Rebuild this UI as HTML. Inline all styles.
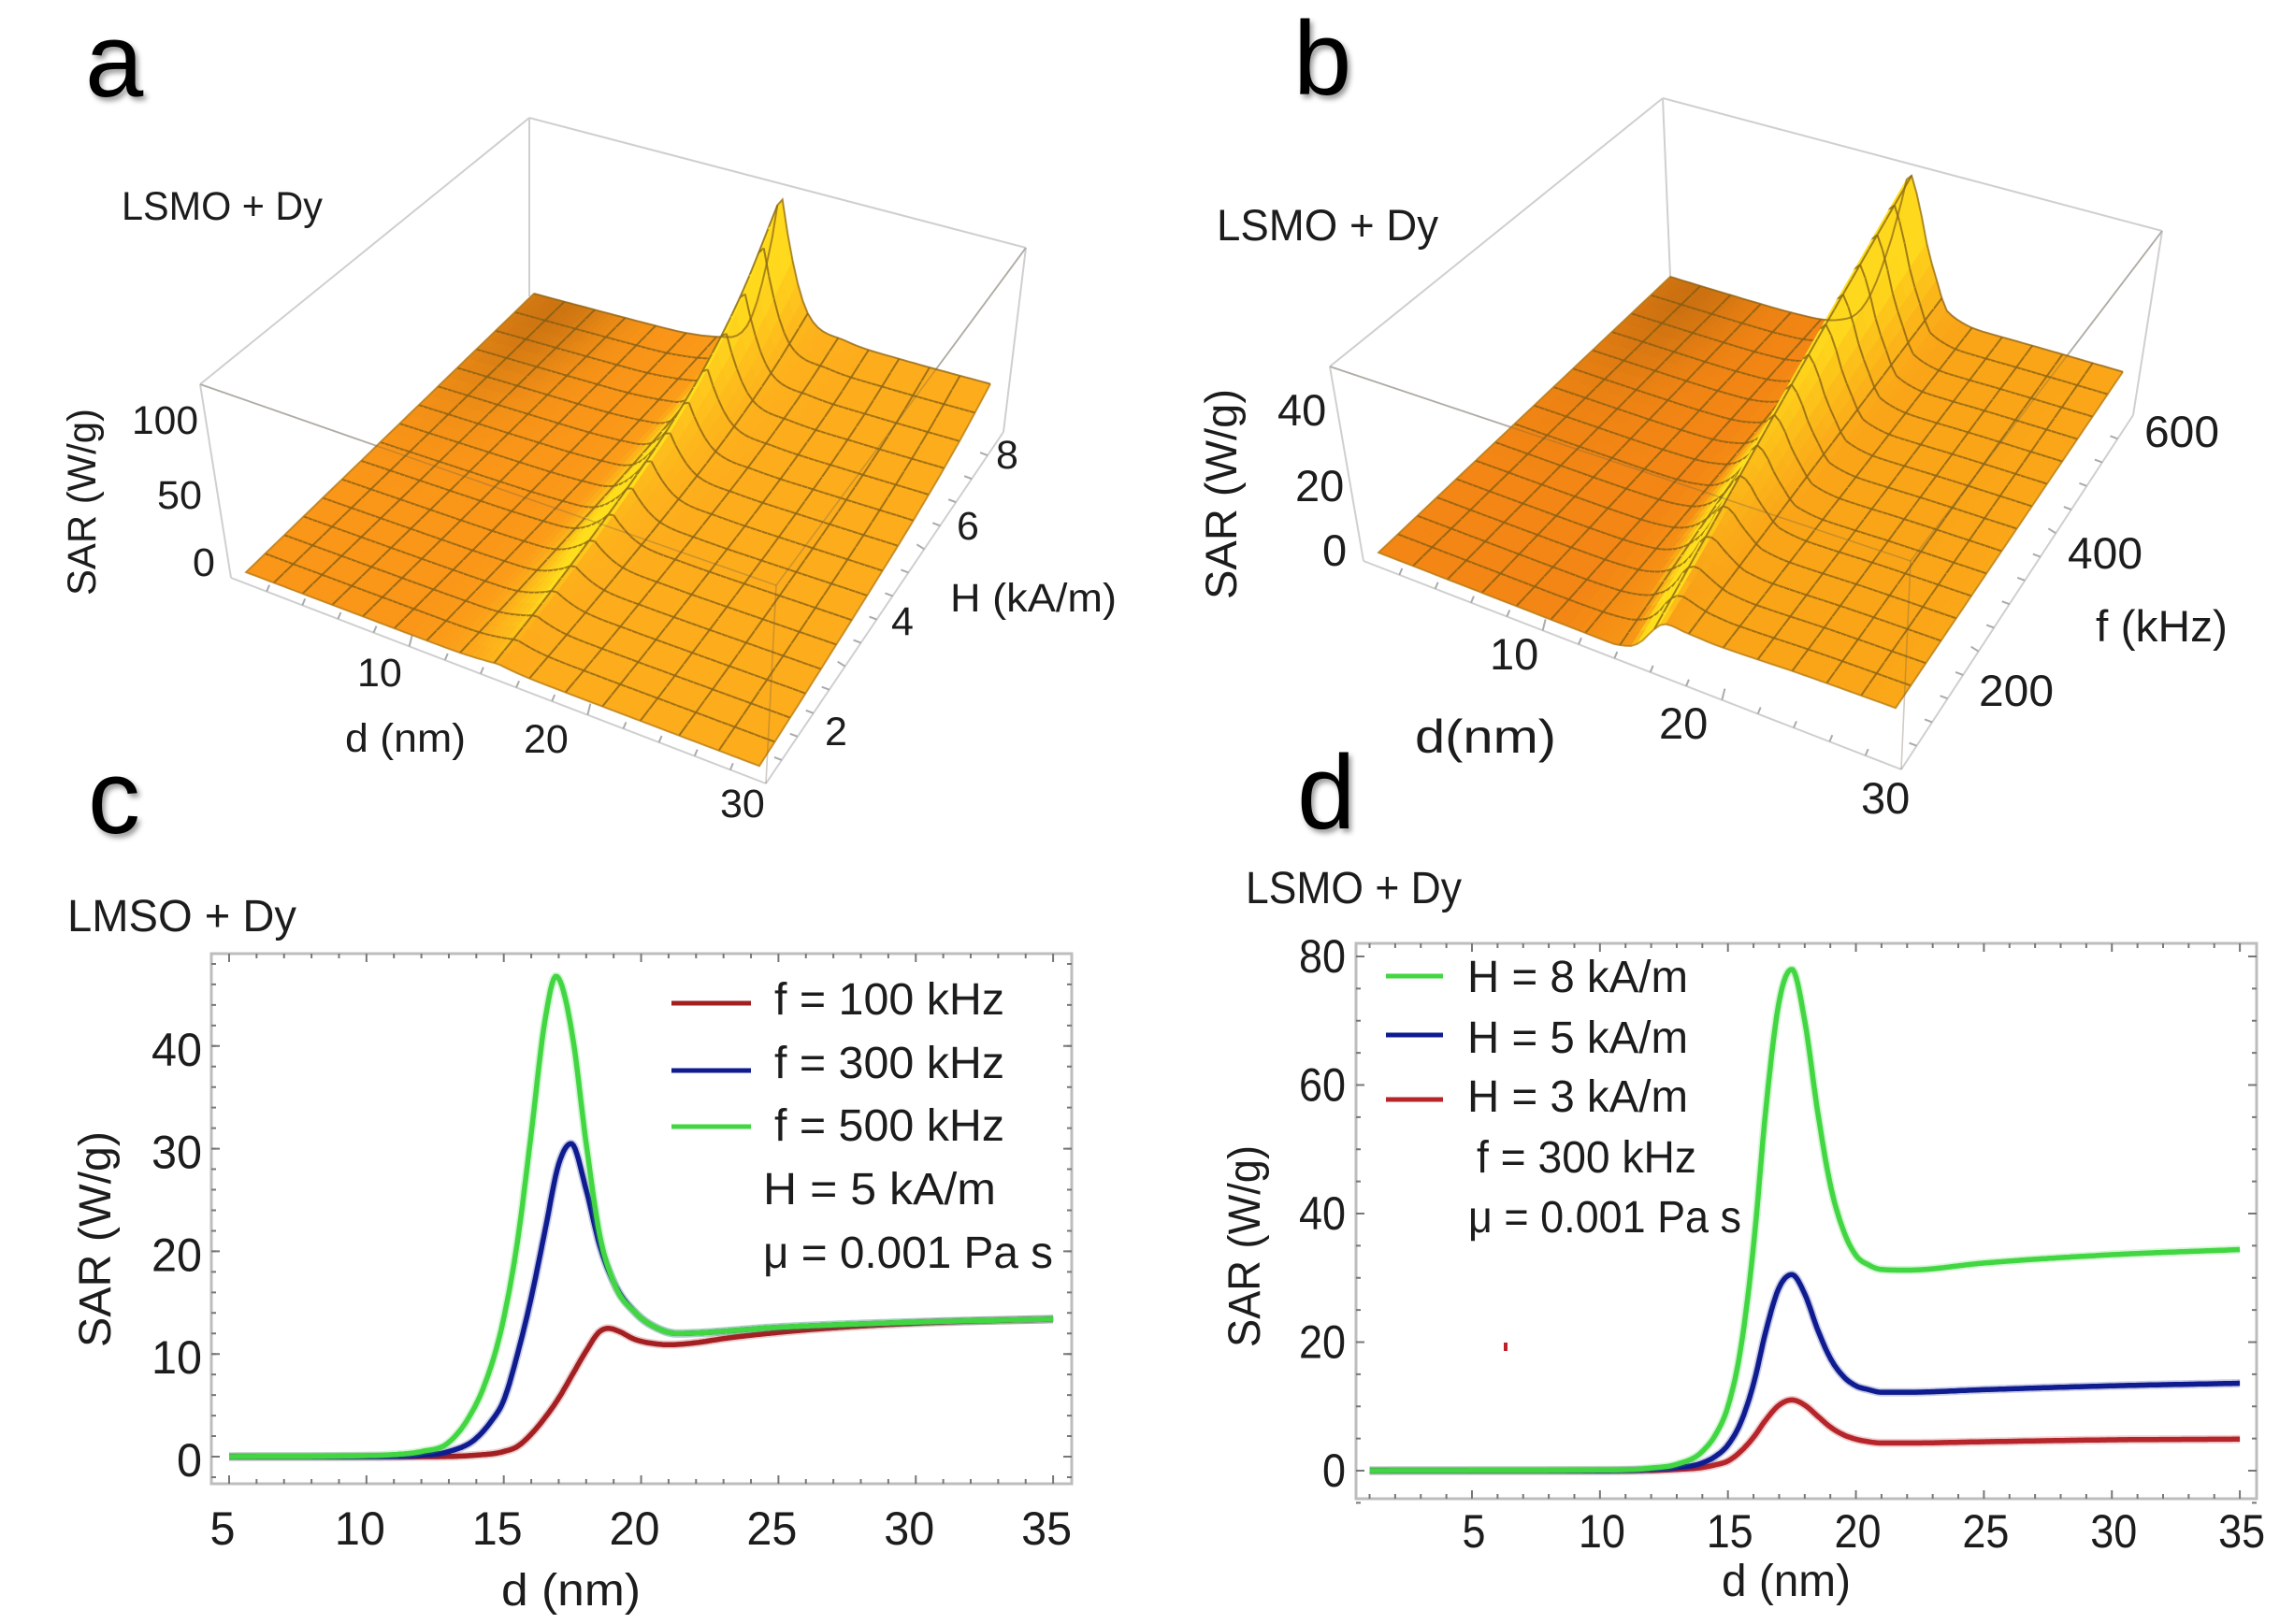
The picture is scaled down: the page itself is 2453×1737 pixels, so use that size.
<!DOCTYPE html>
<html lang="en">
<head>
<meta charset="utf-8">
<title>SAR of LSMO + Dy</title>
<style>
html,body{margin:0;padding:0;background:#fff;}
#figure{display:block;width:2453px;height:1737px;background:#fff;}
text{font-family:"Liberation Sans",sans-serif;fill:#1c1c1c;}
.letter{font-size:112px;fill:#000;filter:drop-shadow(3px 4px 3px rgba(0,0,0,.4));}
</style>
</head>
<body>
<svg id="figure" xmlns="http://www.w3.org/2000/svg" width="2453" height="1737" viewBox="0 0 2453 1737">
  <g id="surface-a"></g>
  <g id="surface-b"></g>
  <g id="chart-c"></g>
  <g id="chart-d"></g>

  <text class="letter" x="91" y="103">a</text>
  <text class="letter" x="1383" y="101">b</text>
  <text class="letter" x="94" y="891">c</text>
  <text class="letter" x="1387" y="886">d</text>

  <!-- panel a labels -->
  <g font-size="43">
    <text x="130" y="235" textLength="215" lengthAdjust="spacingAndGlyphs">LSMO + Dy</text>
    <text x="141" y="464" textLength="71" lengthAdjust="spacingAndGlyphs">100</text>
    <text x="168" y="544" textLength="48" lengthAdjust="spacingAndGlyphs">50</text>
    <text x="206" y="616">0</text>
    <text x="102" y="637" transform="rotate(-90 102 637)" textLength="200" lengthAdjust="spacingAndGlyphs">SAR (W/g)</text>
    <text x="382" y="734">10</text>
    <text x="369" y="804" textLength="129" lengthAdjust="spacingAndGlyphs">d (nm)</text>
    <text x="560" y="805">20</text>
    <text x="770" y="874">30</text>
    <text x="882" y="797">2</text>
    <text x="953" y="679">4</text>
    <text x="1023" y="577">6</text>
    <text x="1065" y="501">8</text>
    <text x="1016" y="654" textLength="178" lengthAdjust="spacingAndGlyphs">H (kA/m)</text>
  </g>

  <!-- panel b labels -->
  <g font-size="47">
    <text x="1301" y="257" textLength="237" lengthAdjust="spacingAndGlyphs">LSMO + Dy</text>
    <text x="1366" y="455">40</text>
    <text x="1385" y="536">20</text>
    <text x="1414" y="605">0</text>
    <text x="1322" y="641" transform="rotate(-90 1322 641)" textLength="225" lengthAdjust="spacingAndGlyphs">SAR (W/g)</text>
    <text x="1593" y="716">10</text>
    <text x="1513" y="805" font-size="50" textLength="151" lengthAdjust="spacingAndGlyphs">d(nm)</text>
    <text x="1774" y="790">20</text>
    <text x="1990" y="870">30</text>
    <text x="2116" y="755" textLength="80" lengthAdjust="spacingAndGlyphs">200</text>
    <text x="2211" y="608" textLength="80" lengthAdjust="spacingAndGlyphs">400</text>
    <text x="2293" y="478" textLength="80" lengthAdjust="spacingAndGlyphs">600</text>
    <text x="2241" y="686" textLength="141" lengthAdjust="spacingAndGlyphs">f (kHz)</text>
  </g>

  <!-- panel c labels -->
  <g font-size="48">
    <text x="72" y="996" textLength="245" lengthAdjust="spacingAndGlyphs">LMSO + Dy</text>
    <text x="118" y="1441" transform="rotate(-90 118 1441)" textLength="231" lengthAdjust="spacingAndGlyphs">SAR (W/g)</text>
    <text x="536" y="1717" textLength="149" lengthAdjust="spacingAndGlyphs">d (nm)</text>
    <text x="828" y="1085" textLength="246" lengthAdjust="spacingAndGlyphs">f = 100 kHz</text>
    <text x="828" y="1153" textLength="246" lengthAdjust="spacingAndGlyphs">f = 300 kHz</text>
    <text x="828" y="1220" textLength="246" lengthAdjust="spacingAndGlyphs">f = 500 kHz</text>
    <text x="816" y="1288" textLength="249" lengthAdjust="spacingAndGlyphs">H = 5 kA/m</text>
    <text x="816" y="1356" textLength="310" lengthAdjust="spacingAndGlyphs">μ = 0.001 Pa s</text>
  </g>

  <!-- panel d labels -->
  <g font-size="48">
    <text x="1332" y="966" textLength="231" lengthAdjust="spacingAndGlyphs">LSMO + Dy</text>
    <text x="1347" y="1441" transform="rotate(-90 1347 1441)" textLength="216" lengthAdjust="spacingAndGlyphs">SAR (W/g)</text>
    <text x="1841" y="1707" textLength="138" lengthAdjust="spacingAndGlyphs">d (nm)</text>
    <text x="1569" y="1061" textLength="236" lengthAdjust="spacingAndGlyphs">H = 8 kA/m</text>
    <text x="1569" y="1126" textLength="236" lengthAdjust="spacingAndGlyphs">H = 5 kA/m</text>
    <text x="1569" y="1189" textLength="236" lengthAdjust="spacingAndGlyphs">H = 3 kA/m</text>
    <text x="1579" y="1254" textLength="235" lengthAdjust="spacingAndGlyphs">f = 300 kHz</text>
    <text x="1570" y="1318" textLength="292" lengthAdjust="spacingAndGlyphs">μ = 0.001 Pa s</text>
    <rect x="1608" y="1436" width="4" height="9" fill="#c0202a"></rect>
  </g>
</svg>

<script>
// ---------- Line chart data ----------
const chartCTickX = [5, 10, 15, 20, 25, 30, 35];
const chartCTickY = [0, 10, 20, 30, 40];
const chartDTickX = [5, 10, 15, 20, 25, 30, 35];
const chartDTickY = [0, 20, 40, 60, 80];

const cGreenD = [5, 10, 11, 12, 13, 13.7, 14.3, 15, 15.5, 16, 16.5, 16.9, 17.5, 18, 18.5, 19, 19.8, 20.6, 21.3, 25, 30, 35];
const cGreenV = [0, 0.1, 0.2, 0.5, 1.4, 3.7, 7, 13.5, 21, 31.5, 42.5, 46.8, 41, 30.5, 21.5, 17, 14, 12.5, 12, 12.6, 13.1, 13.4];
const cBlueD = [5, 10, 12, 13, 14, 14.5, 15, 15.5, 16, 16.5, 17, 17.45, 18, 18.5, 19, 19.8, 20.6, 21.3, 25, 30, 35];
const cBlueV = [0, 0, 0.15, 0.5, 1.8, 3.3, 5.5, 10, 15.5, 22, 28.5, 30.5, 26, 20.5, 17, 14, 12.5, 12, 12.6, 13.1, 13.4];
const cRedD = [5, 12, 14, 15, 15.5, 16, 16.5, 17, 17.5, 18, 18.5, 18.8, 19.2, 19.7, 20.5, 21, 22, 23, 25, 30, 35];
const cRedV = [0, 0, 0.15, 0.5, 1, 2.2, 3.8, 5.7, 8, 10.3, 12.2, 12.5, 12.2, 11.5, 11, 10.9, 11.1, 11.5, 12.1, 13, 13.4];

const dGreenD = [1, 10, 12, 13, 14, 14.5, 15, 15.5, 16, 16.5, 17, 17.5, 18, 18.5, 19, 19.5, 20, 20.5, 21, 22, 25, 30, 35];
const dGreenV = [0, 0.1, 0.4, 1, 3, 5.5, 10, 19, 35, 57, 73, 78, 70, 56, 44.5, 37.5, 33.5, 32, 31.3, 31.2, 32.3, 33.6, 34.4];
const dBlueD = [1, 10, 12, 13, 14, 14.5, 15, 15.5, 16, 16.5, 17, 17.5, 18, 18.5, 19, 19.5, 20, 20.5, 21, 22, 25, 30, 35];
const dBlueV = [0, 0, 0.2, 0.5, 1.2, 2.2, 4, 7.5, 13.5, 22, 28.5, 30.5, 27.5, 22, 17.5, 14.7, 13.2, 12.6, 12.2, 12.2, 12.6, 13.2, 13.6];
const dRedD = [1, 11, 13, 14, 14.5, 15, 15.5, 16, 16.5, 17, 17.5, 18, 18.5, 19, 19.5, 20, 20.5, 21, 22, 25, 30, 35];
const dRedV = [0, 0, 0.2, 0.5, 0.9, 1.5, 3, 5.2, 8, 10.2, 11, 10.2, 8.5, 6.8, 5.6, 4.9, 4.5, 4.3, 4.3, 4.5, 4.8, 4.9];

// ---------- Surface data ----------
const surfaceD = [1, 5, 10, 12, 13, 14, 15, 15.5, 16, 16.5, 17, 17.5, 18, 18.5, 19, 19.5, 20, 20.5, 21, 22, 25, 30];
const surfaceAHigh = [0, 0, 0.2, 1, 2.5, 5, 10, 18, 34, 58, 88, 121, 88, 60, 42, 33, 29, 27.5, 27, 25, 23.5, 23];
const surfaceALow = [0, 0, 0, 0, 0, 0, 0, 0, 0, 0, 0, 0, 0, 0, 0, 0, 0, 0, 0, 0, 0, 0];
const surfaceAWeights = [0.02, 0.06, 0.11, 0.17, 0.24, 0.33, 0.47, 0.68, 1];
const surfaceBHigh = [0, 0, 0.1, 0.5, 1, 2.5, 6, 10, 16, 24, 33, 44, 54, 46, 33, 24, 16, 14, 13, 12.3, 12.6, 13];
const surfaceBLow = [0, 0, 0, 0, 0, 0, 0, 0, 0, 0.5, 1.5, 4, 8, 11, 11.6, 11.3, 11.2, 11.1, 11, 11.2, 12.1, 13];
const surfaceBWeights = [0, 0.125, 0.25, 0.375, 0.5, 0.625, 0.75, 0.875, 1];

// ---------- Helpers ----------
const NS = 'http://www.w3.org/2000/svg';
function mk(parent, tag, attrs) {
  const el = document.createElementNS(NS, tag);
  for (const k in attrs) el.setAttribute(k, attrs[k]);
  parent.appendChild(el);
  return el;
}
function interp(xs, ys) {
  // limited cubic through the read points
  const n = xs.length, s = [], m = [];
  for (let i = 0; i < n - 1; i++) s.push((ys[i + 1] - ys[i]) / (xs[i + 1] - xs[i]));
  m.push(s[0]);
  for (let i = 1; i < n - 1; i++) {
    if (s[i - 1] * s[i] <= 0) { m.push(0); continue; }
    const c = (s[i - 1] * (xs[i + 1] - xs[i]) + s[i] * (xs[i] - xs[i - 1])) / (xs[i + 1] - xs[i - 1]);
    const lim = 3 * Math.min(Math.abs(s[i - 1]), Math.abs(s[i]));
    m.push(Math.sign(c) * Math.min(Math.abs(c), lim));
  }
  m.push(s[n - 2]);
  return function (x) {
    if (x <= xs[0]) return ys[0];
    if (x >= xs[n - 1]) return ys[n - 1];
    let i = 0;
    while (x > xs[i + 1]) i++;
    const h = xs[i + 1] - xs[i], t = (x - xs[i]) / h, t2 = t * t, t3 = t2 * t;
    return (2 * t3 - 3 * t2 + 1) * ys[i] + (t3 - 2 * t2 + t) * h * m[i] + (-2 * t3 + 3 * t2) * ys[i + 1] + (t3 - t2) * h * m[i + 1];
  };
}
function mix(a, b, t) { return a + (b - a) * t; }
function mixColor(a, b, t) { return [mix(a[0], b[0], t), mix(a[1], b[1], t), mix(a[2], b[2], t)]; }
function clamp(v) { return Math.max(0, Math.min(1, v)); }

// ---------- 2D line charts ----------
function drawChart(cfg) {
  const g = document.getElementById(cfg.id);
  const sx = function (v) { return cfg.x0 + (v - cfg.xv0) * cfg.xk; };
  const sy = function (v) { return cfg.y0 - v * cfg.yk; };
  const frame = mk(g, 'rect', { x: cfg.l, y: cfg.t, width: cfg.r - cfg.l, height: cfg.b - cfg.t, fill: 'none', stroke: '#bdbdbd', 'stroke-width': 3 });
  
  
  for (let v = cfg.xMinorStart; v <= 35; v += 1) {
    const major = v % 5 === 0;
    const len = major ? 9 : 5;
    const t1 = mk(g, 'path', { d: 'M' + sx(v) + ' ' + cfg.b + 'v' + (-len) + 'M' + sx(v) + ' ' + cfg.t + 'v' + len, stroke: '#777', 'stroke-width': 2 });
    
    
  }
  for (let v = cfg.yMinorStart; sy(v) > cfg.t; v += cfg.yMinorStep) {
    const t2 = mk(g, 'path', { d: 'M' + cfg.l + ' ' + sy(v) + 'h5M' + cfg.r + ' ' + sy(v) + 'h-5', stroke: '#777', 'stroke-width': 2 });
    
    
  }
  cfg.tickX.forEach(function (v) {
    const t = mk(g, 'text', { x: sx(v) + cfg.labelDx, y: cfg.xLabelY, 'font-size': 50, 'text-anchor': 'middle', textLength: String(v).length * cfg.digitW, lengthAdjust: 'spacingAndGlyphs' });
    t.textContent = v;
    
    
  });
  cfg.tickY.forEach(function (v) {
    const t = mk(g, 'text', { x: cfg.yLabelX, y: sy(v) + cfg.yLabelDy, 'font-size': 50, 'text-anchor': 'end', textLength: String(v).length * cfg.digitW, lengthAdjust: 'spacingAndGlyphs' });
    t.textContent = v;
    
    
    const m = mk(g, 'path', { d: 'M' + cfg.l + ' ' + sy(v) + 'h9M' + cfg.r + ' ' + sy(v) + 'h-9', stroke: '#777', 'stroke-width': 2 });
    
    
  });
  cfg.series.forEach(function (s) {
    const f = interp(s.d, s.v);
    let p = '';
    const a = s.d[0], b = s.d[s.d.length - 1], n = 500;
    for (let i = 0; i <= n; i++) {
      const d = a + (b - a) * i / n;
      p += (i ? 'L' : 'M') + sx(d).toFixed(1) + ' ' + sy(f(d)).toFixed(1);
    }
    const glow = mk(g, 'path', { d: p, fill: 'none', stroke: s.color, 'stroke-width': 9, opacity: 0.22, 'stroke-linejoin': 'round' });
    
    
    const line = mk(g, 'path', { d: p, fill: 'none', stroke: s.color, 'stroke-width': 5.5, 'stroke-linejoin': 'round' });
    
    
    const key = mk(g, 'line', { x1: cfg.legX1, x2: cfg.legX2, y1: s.legY, y2: s.legY, stroke: s.color, 'stroke-width': 5 });
    
    
  });
}

drawChart({
  id: 'chart-c', l: 226, r: 1146, t: 1020, b: 1587,
  x0: 245, xv0: 5, xk: 29.37, y0: 1558, yk: 10.98,
  xMinorStart: 5, yMinorStart: -2, yMinorStep: 2,
  tickX: chartCTickX, tickY: chartCTickY,
  labelDx: -7, xLabelY: 1652, yLabelX: 216, yLabelDy: 21, digitW: 27,
  legX1: 718, legX2: 803,
  series: [
    { name: 'series-f-100', color: '#a31f22', d: cRedD, v: cRedV, legY: 1073 },
    { name: 'series-f-300', color: '#0f1c90', d: cBlueD, v: cBlueV, legY: 1145 },
    { name: 'series-f-500', color: '#42d642', d: cGreenD, v: cGreenV, legY: 1205 }
  ]
});
drawChart({
  id: 'chart-d', l: 1450, r: 2413, t: 1009, b: 1603,
  x0: 1574, xv0: 5, xk: 27.37, y0: 1573, yk: 6.875,
  xMinorStart: 1, yMinorStart: -5, yMinorStep: 5,
  tickX: chartDTickX, tickY: chartDTickY,
  labelDx: 2, xLabelY: 1655, yLabelX: 1439, yLabelDy: 17, digitW: 25,
  legX1: 1482, legX2: 1543,
  series: [
    { name: 'series-h-3', color: '#b5252a', d: dRedD, v: dRedV, legY: 1176 },
    { name: 'series-h-5', color: '#0f1c90', d: dBlueD, v: dBlueV, legY: 1107 },
    { name: 'series-h-8', color: '#42d642', d: dGreenD, v: dGreenV, legY: 1044 }
  ]
});

// ---------- 3D surfaces ----------
function drawSurface(cfg) {
  const g = document.getElementById(cfg.id);
  const box = cfg.box;
  const seg = function (p, q, stroke, w) {
    const l = mk(g, 'line', { x1: p[0], y1: p[1], x2: q[0], y2: q[1], stroke: stroke, 'stroke-width': w });
    
    
  };
  const gray = '#cfcfcf';
  seg(box.tl, box.tb, gray, 2); seg(box.tb, box.tr, gray, 2);
  seg(box.tl, box.tf, gray, 2); seg(box.tr, box.tf, gray, 2);
  seg(box.tb, box.fb, gray, 2); seg(box.tl, box.fl, gray, 2);
  seg(box.tr, box.fr, gray, 2);
  seg(box.fl, box.ff, gray, 2); seg(box.ff, box.fr, gray, 2);

  // axis ticks along the two visible floor edges
  for (let i = 1; i < 15; i++) {
    const t = i / 15;
    const a = [mix(box.fl[0], box.ff[0], t), mix(box.fl[1], box.ff[1], t)];
    const tickA = mk(g, 'path', { d: 'M' + a[0] + ' ' + a[1] + 'l3 ' + (i % 5 === 0 ? -12 : -7), stroke: '#aaa', 'stroke-width': 2, fill: 'none' });
    
    
    const b = [mix(box.ff[0], box.fr[0], t), mix(box.ff[1], box.fr[1], t)];
    const tickB = mk(g, 'path', { d: 'M' + b[0] + ' ' + b[1] + 'l-8 ' + (i % 5 === 0 ? -5 : -3), stroke: '#aaa', 'stroke-width': 2, fill: 'none' });
    
    
  }

  const fHigh = interp(surfaceD, cfg.high);
  const fLow = interp(surfaceD, cfg.low);
  const fW = interp(cfg.weights.map(function (_, i) { return i / (cfg.weights.length - 1); }), cfg.weights);
  const dMin = cfg.dMin, dMax = surfaceD[surfaceD.length - 1];
  const FL = cfg.FL, FR = cfg.FR, BL = cfg.BL, BR = cfg.BR;
  const height = function (u, v) {
    const d = dMin + (dMax - dMin) * u;
    return mix(fLow(d), fHigh(d), fW(v)) * cfg.zk * (1 - 0.07 * v);
  };
  const proj = function (u, v) {
    const w = u - cfg.warp * (1 - v) * u * (1 - u);
    const x = (1 - v) * ((1 - w) * FL[0] + w * FR[0]) + v * ((1 - w) * BL[0] + w * BR[0]);
    const y = (1 - v) * ((1 - w) * FL[1] + w * FR[1]) + v * ((1 - w) * BL[1] + w * BR[1]);
    return [x, y - height(u, v)];
  };
  const NU = 90, NV = 30, UM = 6, VM = 2;
  const pts = [];
  for (let j = 0; j <= NV; j++) {
    const row = [];
    for (let i = 0; i <= NU; i++) row.push(proj(i / NU, j / NV));
    pts.push(row);
  }
  const cYellow = [255, 222, 28];
  for (let j = NV - 1; j >= 0; j--) {
    const v = (j + 0.5) / NV;
    const plateau = height(1, v);
    for (let i = 0; i < NU; i++) {
      const u = (i + 0.5) / NU;
      const A = pts[j][i], B = pts[j][i + 1], C = pts[j + 1][i + 1], D = pts[j + 1][i];
      const du = 1 / NU;
      const slope = (height(u + du / 2, v) - height(u - du / 2, v)) / (du * 700);
      const excess = height(u, v) - plateau;
      let col = mixColor(cfg.leftColor, cfg.rightColor, clamp((u - 0.35) / 0.25));
      const dark = Math.exp(-(Math.pow((u - 0.06) / 0.13, 2) + Math.pow((v - 0.98) / 0.3, 2)));
      col = mixColor(col, [190, 105, 15], 0.75 * dark);
      if (slope > 0) col = mixColor(col, cYellow, clamp(slope * 1.8 + excess / 60));
      else col = mixColor(col, cYellow, 0.9 * clamp(excess / 80));
      const fillStr = 'rgb(' + col.map(Math.round).join(',') + ')';
      const poly = mk(g, 'polygon', {
        points: [A, B, C, D].map(function (p) { return p[0].toFixed(1) + ',' + p[1].toFixed(1); }).join(' '),
        fill: fillStr, stroke: fillStr, 'stroke-width': 0.8
      });
      
      
      if (i % UM === 0 && i > 0) {
        const ml = mk(g, 'line', { x1: A[0], y1: A[1], x2: D[0], y2: D[1], stroke: '#7c5a14', 'stroke-opacity': 0.72, 'stroke-width': 2 });
        
        
      }
      if ((j + 1) % VM === 0 && j + 1 < NV) {
        const mh = mk(g, 'line', { x1: D[0], y1: D[1], x2: C[0], y2: C[1], stroke: '#7c5a14', 'stroke-opacity': 0.72, 'stroke-width': 2 });
        
        
      }
    }
  }
  // outline of surface edges
  let outline = '';
  for (let j = NV; j >= 0; j--) outline += (j === NV ? 'M' : 'L') + pts[j][0][0].toFixed(1) + ' ' + pts[j][0][1].toFixed(1);
  for (let i = 1; i <= NU; i++) outline += 'L' + pts[0][i][0].toFixed(1) + ' ' + pts[0][i][1].toFixed(1);
  for (let j = 1; j <= NV; j++) outline += 'L' + pts[j][NU][0].toFixed(1) + ' ' + pts[j][NU][1].toFixed(1);
  const edge = mk(g, 'path', { d: outline, fill: 'none', stroke: '#b07a18', 'stroke-opacity': 0.7, 'stroke-width': 2 });
  
  
  let backEdge = '';
  for (let i = 0; i <= NU; i++) backEdge += (i ? 'L' : 'M') + pts[NV][i][0].toFixed(1) + ' ' + pts[NV][i][1].toFixed(1);
  const back = mk(g, 'path', { d: backEdge, fill: 'none', stroke: '#8a6418', 'stroke-opacity': 0.7, 'stroke-width': 2 });
  
  
  // near box edges drawn faintly over the surface
  const over = 'rgba(110,95,70,.32)';
  seg(box.tl, box.tf, over, 1.6);
  seg(box.tr, box.tf, over, 1.6);
  seg(box.tf, box.ff, over, 1.6);
}

drawSurface({
  id: 'surface-a', high: surfaceAHigh, low: surfaceALow, weights: surfaceAWeights,
  zk: 1.56, dMin: 2.8, warp: 0.2,
  FL: [263, 612], FR: [812, 820], BL: [571, 314], BR: [1059, 444],
  leftColor: [250, 150, 24], rightColor: [253, 172, 28],
  box: { tl: [214, 411], tb: [566, 126], tr: [1097, 265], tf: [830, 626], fl: [247, 618], ff: [819, 838], fr: [1073, 462], fb: [566, 317] }
});
drawSurface({
  id: 'surface-b', high: surfaceBHigh, low: surfaceBLow, weights: surfaceBWeights,
  zk: 3.75, dMin: 4.5, warp: 0,
  FL: [1474, 591], FR: [2027, 806], BL: [1786, 296], BR: [2270, 443],
  leftColor: [243, 134, 20], rightColor: [250, 165, 24],
  box: { tl: [1422, 392], tb: [1778, 105], tr: [2312, 247], tf: [2043, 600], fl: [1458, 600], ff: [2033, 823], fr: [2281, 444], fb: [1786, 296] }
});
</script>
</body>
</html>
